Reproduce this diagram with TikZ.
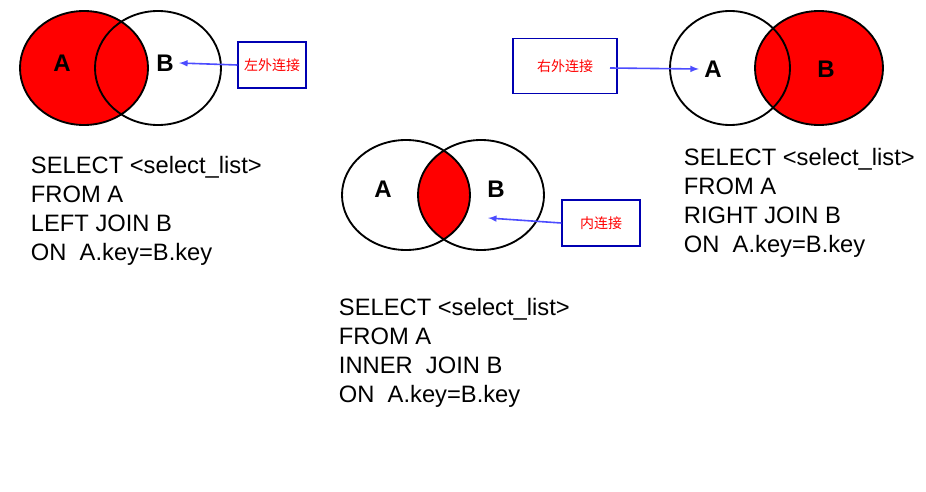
\documentclass[tikz,border=0pt]{standalone}
\usepackage{fontspec}
\setmainfont{Liberation Sans}
\newfontfamily\cjk{Noto Sans CJK SC}
\usetikzlibrary{positioning}
\begin{document}
\begin{tikzpicture}[x=0.75pt,y=-0.75pt,line width=1.4pt]
        %
        % `sql' is the query text, `note' the blue label boxes.
        \tikzstyle{sql} = [anchor=north west,align=left,inner sep=0pt,font=\fontsize{17.8}{21.8}\selectfont]
        \tikzstyle{setlabel} = [font=\bfseries\fontsize{18}{18}\selectfont]
        \tikzstyle{note} = [draw=blue!70!black,line width=1pt,font=\cjk\fontsize{10.5}{10.5}\selectfont,text=red]
        \tikzstyle{pointer} = [draw=blue!70!white,line width=1.2pt,-latex]
        \useasboundingbox (0,0) rectangle (926,492);
        %
        % Left join
        \fill[red] (84,68) ellipse (64 and 57);
        \draw (84,68) ellipse (64 and 57);
        \draw (158,68) ellipse (63 and 57);
        \node[setlabel] (la) at (62,63) {A};
        \node[setlabel] (lb) at (165,63) {B};
        \node[note,minimum width=68*0.75pt,minimum height=46*0.75pt] (lnote) at (272,65) {左外连接};
        \draw[pointer] (lnote.west) -- (lb.east);
        \node[sql] (lsql) at (30,155) {SELECT <select\_list>\\FROM A\\LEFT JOIN B\\ON~ A.key=B.key};
        %
        % Inner join
        \begin{scope}
        \clip (406,195) ellipse (64 and 55);
        \fill[red] (481,195) ellipse (63 and 55);
        \end{scope}
        \draw (406,195) ellipse (64 and 55);
        \draw (481,195) ellipse (63 and 55);
        \node[setlabel] (ia) at (383,189) {A};
        \node[setlabel] (ib) at (496,189) {B};
        \node[note,minimum width=78*0.75pt,minimum height=46*0.75pt] (inote) at (601,223) {内连接};
        \coordinate (itip) at (488,218);
        \draw[pointer] (inote.west) -- (itip);
        \node[sql] (isql) at (338,297) {SELECT <select\_list>\\FROM A\\INNER~ JOIN B\\ON~ A.key=B.key};
        %
        % Right join
        \fill[red] (819,68) ellipse (64 and 57);
        \draw (730,68) ellipse (60 and 57);
        \draw (819,68) ellipse (64 and 57);
        \node[setlabel] (ra) at (713,69) {A};
        \node[setlabel] (rb) at (826,69) {B};
        \node[note,minimum width=104*0.75pt,minimum height=55*0.75pt] (rnote) at (565,66) {右外连接};
        \coordinate (rfrom) at (610,68);
        \draw[pointer] (rfrom) -- (ra.west);
        \node[sql] (rsql) at (683,147) {SELECT <select\_list>\\FROM A\\RIGHT JOIN B\\ON~ A.key=B.key};
\end{tikzpicture}
\end{document}
